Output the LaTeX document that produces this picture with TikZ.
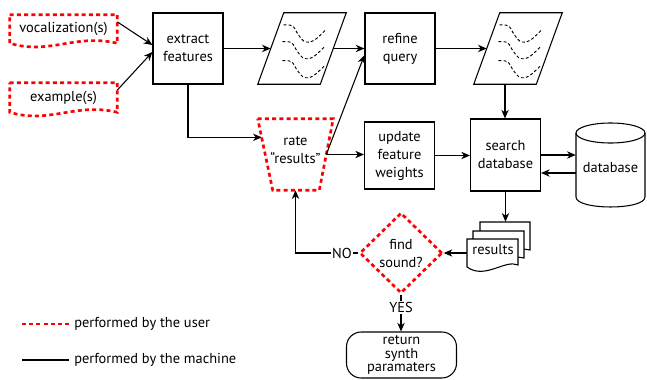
\documentclass[tikz,border=0pt]{standalone}
\usepackage{fontspec}
\setmainfont{PT Sans}
\usetikzlibrary{shapes.geometric,arrows.meta,calc}

% three dashed squiggles inside a data parallelogram
\newcommand\squiggles[1]{%
  \foreach \dx/\dy in {-18.5/-23.5, -19.5/-6.8, -19.5/12.2}
    \draw[squiggle, shift={(#1.center)}, shift={(\dx,\dy)}]
      plot[smooth, tension=0.6] coordinates {(0,0) (9,1) (15,10) (22,17) (31,15) (42,5)};%
}
% parallelogram outline on the bounding box of a node, slant in px
\newcommand\paraoutline[2]{%
  \draw[machine] (#1.south west) -- ($(#1.north west)+(#2,0)$) -- (#1.north east)
    -- ($(#1.south east)+(-#2,0)$) -- cycle;%
}

\begin{document}
\begin{tikzpicture}[x=0.75pt,y=-0.75pt,
  font=\fontsize{10.8}{13.5}\selectfont,
  machine/.style={draw=black, line width=0.8pt},
  user/.style={draw=red, line width=2pt, dash pattern=on 3pt off 2.4pt},
  arr/.style={line width=0.8pt, -{Stealth[length=6.5pt,width=5.5pt,inset=2pt]}},
  box/.style={machine, rectangle, minimum width=52.5pt, minimum height=53.25pt,
    align=center, inner sep=1pt},
  tape/.style={rectangle, minimum width=80.25pt, minimum height=21pt, inner sep=1pt},
  frame/.style={rectangle, inner sep=0pt, align=center},
  squiggle/.style={line width=0.7pt, dash pattern=on 2.2pt off 1.6pt},
  lbl/.style={fill=white, inner sep=1pt},
]
\useasboundingbox (0,0) rectangle (647,379);

% inputs supplied by the user
\node[tape] (voc) at (63.5,29) {vocalization(s)};
\draw[user] (voc.north west) -- (voc.north east) -- (voc.south east)
  .. controls +(-42,-10) and +(40,12) .. (voc.south west) -- cycle;
\node[tape, minimum height=21.75pt] (ex) at (63.5,97.5) {example(s)};
\draw[user] (ex.north west) -- (ex.north east) -- (ex.south east)
  .. controls +(-42,-10) and +(40,12) .. (ex.south west) -- cycle;

% top row
\node[box] (ext) at (188,48.5) {extract\\features};
\node[frame, minimum width=66pt, minimum height=53.25pt] (p1) at (302,48.5) {};
\paraoutline{p1}{26}
\squiggles{p1}
\node[box] (ref) at (400,48.5) {refine\\query};
\node[frame, minimum width=66pt, minimum height=53.25pt] (p2) at (518,48.5) {};
\paraoutline{p2}{26}
\squiggles{p2}
\coordinate (p2b) at ($(p2.south)+(-13,0)$);

\draw[arr] ($(voc.north east)!0.25!(voc.south east)$) -- ([yshift=2.6pt]ext.west);
\draw[arr] ($(ex.north east)!0.25!(ex.south east)$) -- ([yshift=-2.6pt]ext.west);
\draw[arr] (ext.east) -- ($(p1.west)+(13,0)$);
\draw[arr] ($(p1.east)+(-13,0)$) -- (ref.west);
\draw[arr] (ref.east) -- ($(p2.west)+(13,0)$);

% middle row
\node[frame, minimum width=56.25pt, minimum height=53.25pt] (rate) at (295.5,154.5) {};
\draw[user] (rate.north west) -- (rate.north east) -- ($(rate.south east)+(-14,0)$)
  -- ($(rate.south west)+(15,0)$) -- cycle;
\node[frame] at ([yshift=3pt]rate.center) {rate\\“results”};
\node[box, minimum height=50.25pt] (upd) at (399.5,155.5) {update\\feature\\weights};
\node[box, minimum height=54pt] (sdb) at (505.5,155) {search\\database};
\node[frame, minimum width=51.75pt] (db) at (610.5,168) {database};
\draw[machine] (576,133) -- (576,197) .. controls (576,210.3) and (645,210.3) .. (645,197) -- (645,133);
\draw[machine] (610.5,133) ellipse[x radius=25.875pt, y radius=7.5pt];

\draw[arr] (ext.south) |- ($(rate.north west)!0.26!(rate.south west)+(4,0)$);
\draw[arr] ($(rate.east)+(-7,0)$) -- ([yshift=-4.9pt]ref.west);
\draw[arr] ($(rate.east)+(-7,0)$) -- (rate.east -| upd.west);
\draw[arr] (upd.east) -- (upd.east -| sdb.west);
\draw[arr] (p2b) -- (p2b |- sdb.north);
\draw[arr] (sdb.east) -- (sdb.east -| db.west);
\draw[arr] ($(db.west)+(0,5)$) -- ($(sdb.east)+(0,18)$);

% stack of result pages
\filldraw[machine, fill=white] (480,222) -- (530,222) -- (530,250)
  .. controls (517,246) and (497,258) .. (480,252) -- cycle;
\filldraw[machine, fill=white] (473,231) -- (524,231) -- (524,258)
  .. controls (511,254) and (491,266) .. (473,260) -- cycle;
\filldraw[machine, fill=white] (467,239) -- (518,239) -- (518,265)
  .. controls (505,259) and (485,280) .. (467,267) -- cycle;
\node[inner sep=0pt, minimum width=47.25pt, minimum height=36pt] (stack) at (498.5,246) {};
\node[inner sep=0pt] (res) at (493,250) {results};

% decision
\node[diamond, user, minimum width=62pt, minimum height=60.5pt, inner sep=0pt,
  align=center] (dia) at (401,253) {find\\sound?};
\node[machine, rounded corners=11pt, minimum width=82.5pt, minimum height=34.5pt,
  align=center, inner sep=0pt, font=\fontsize{10.8}{10.2}\selectfont]
  (ret) at (401.5,355) {return\\synth\\paramaters};

\draw[arr] (sdb.south) -- (sdb.south |- stack.north);
\draw[arr] (stack.west |- dia.east) -- (dia.east);
\draw[arr] (dia.west) -| node[lbl, pos=0.13] {NO} (rate.south);
\draw[arr] (dia.south) -- node[lbl, pos=0.36] {YES} (dia.south |- ret.north);

% legend
\coordinate (lu) at (22,324);
\node[anchor=west, inner sep=3.75pt] (lgu) at (69,324) {performed by the user};
\draw[user] (lu) -- (lgu.west);
\coordinate (lm) at (22,360);
\node[anchor=west, inner sep=3.75pt] (lgm) at (69,360) {performed by the machine};
\draw[line width=0.8pt] (lm) -- (lgm.west);
\end{tikzpicture}
\end{document}
